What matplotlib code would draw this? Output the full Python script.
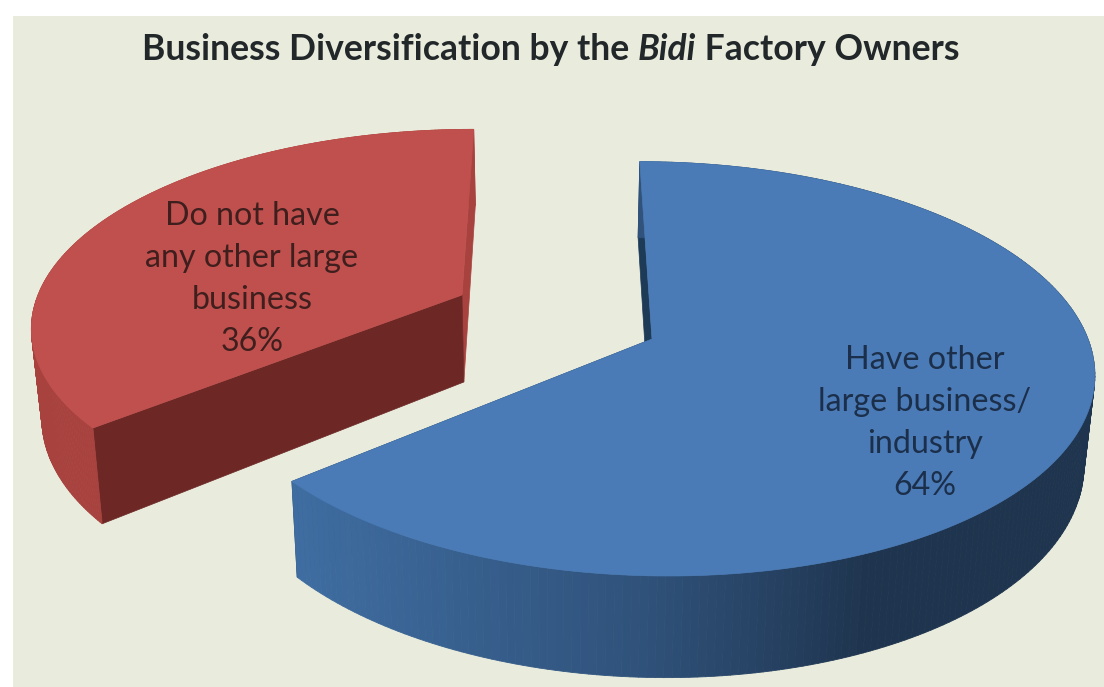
import numpy as np
import matplotlib
matplotlib.use("Agg")
import matplotlib.pyplot as plt
from matplotlib.patches import Polygon, Rectangle
from matplotlib.collections import PolyCollection
from matplotlib.colors import LinearSegmentedColormap

# Survey shares
categories = ["Have other\nlarge business/\nindustry", "Do not have\nany other large\nbusiness"]
shares = [64, 36]
title_parts = [("Business Diversification by the ", "normal"), ("Bidi", "italic"), (" Factory Owners", "normal")]

FONT = "Lato"
PAGE = "#E9ECDD"

# Projection of the tilted pie onto the canvas (pixel coordinates)
XC, YC = 555.0, 340.0      # vanishing centre
PERSP = 0.144              # foreshortening along the viewing axis
DEPTH = 87.0               # thickness of the disc
DEPTH_SHRINK = 0.02        # convergence of the lower face

styles = [
    dict(apex=(652.0, 339.0), rx=436.0, ry=203.0, top="#4A7BB6", wall="#1D3A56", text="#1C2F4A", label=(925, 423),
         side="#1D3A56",
         rim=LinearSegmentedColormap.from_list("b", [(0, "#3F6DA1"), (0.45, "#2F5179"), (0.72, "#1F354F"), (1, "#1F344E")])),
    dict(apex=(462.0, 295.0), rx=424.0, ry=196.0, top="#C0504D", wall="#6D2826", text="#3F1F1E", label=(252, 279),
         side="#A8423F",
         rim=LinearSegmentedColormap.from_list("r", ["#A8423F", "#A8423F"])),
]


def project(theta, radius, style, lowered=False):
    """Map a polar position on the disc to canvas pixels."""
    u = radius * np.sin(theta)
    v = -radius * np.cos(theta)
    w = 1 - PERSP * v
    x = XC + (style["apex"][0] - XC + style["rx"] * u) / w
    y = YC + (style["apex"][1] - YC + style["ry"] * v) / w
    if lowered:
        x = XC + (x - XC) * (1 - DEPTH_SHRINK)
        y = y + DEPTH / w
    return x, y


fig = plt.figure(figsize=(11.04, 6.87), dpi=100, facecolor="white")
ax = fig.add_axes([0, 0, 1, 1])
ax.set_xlim(0, 1104)
ax.set_ylim(687, 0)
ax.axis("off")
ax.add_patch(Rectangle((13, 16), 1091, 671, facecolor=PAGE, edgecolor="none", zorder=0))

# Slice boundaries come straight from the shares
edges = 2 * np.pi * np.cumsum([0] + shares) / sum(shares)

for i, style in enumerate(styles):
    th = np.linspace(edges[i], edges[i + 1], 240)
    xt, yt = project(th, 1.0, style)
    xb, yb = project(th, 1.0, style, lowered=True)
    ax_, ay_ = project(th[:1], 0.0, style)
    cx, cy = ax_[0], ay_[0]
    lx, ly = project(th[:1], 0.0, style, lowered=True)

    # Radial cut faces: the face at the lower angle is the one turned to the viewer
    for j, colour in ((-1, style["side"]), (0, style["wall"])):
        poly = [(cx, cy), (xt[j], yt[j]), (xb[j], yb[j]), (lx[0], ly[0])]
        ax.add_patch(Polygon(poly, closed=True, facecolor=colour, edgecolor=colour, lw=0.5, zorder=2))

    # Outer rim with a horizontal shading ramp
    quads = [[(xt[k], yt[k]), (xt[k + 1], yt[k + 1]), (xb[k + 1], yb[k + 1]), (xb[k], yb[k])]
             for k in range(len(th) - 1)]
    frac = np.clip((xt[:-1] - 297) / (1095 - 297), 0, 1)
    cols = style["rim"](frac)
    ax.add_collection(PolyCollection(quads, facecolors=cols, edgecolors=cols, linewidths=0.6, zorder=3))

    # Top surface
    top = np.column_stack([np.r_[cx, xt], np.r_[cy, yt]])
    ax.add_patch(Polygon(top, closed=True, facecolor=style["top"], edgecolor=style["top"], lw=0.5, zorder=4))

    # Category label with its percentage
    ax.text(style["label"][0], style["label"][1], f"{categories[i]}\n{shares[i]}%",
            ha="center", va="center", family=FONT, fontsize=23.2, linespacing=1.5,
            color=style["text"], zorder=5)

# Title with the italic word set in line
fig.canvas.draw()
renderer = fig.canvas.get_renderer()
pieces = [ax.text(0, 60, s.replace(" ", "\u00a0"), family=FONT, fontweight="bold", style=st, fontsize=25.6,
                  color="#22282A", va="baseline", ha="left", zorder=6) for s, st in title_parts]
widths = [p.get_window_extent(renderer).width for p in pieces]
x = 551 - sum(widths) / 2
for p, w in zip(pieces, widths):
    p.set_x(x)
    x += w

fig.savefig("out.png", dpi=100, facecolor="white")
